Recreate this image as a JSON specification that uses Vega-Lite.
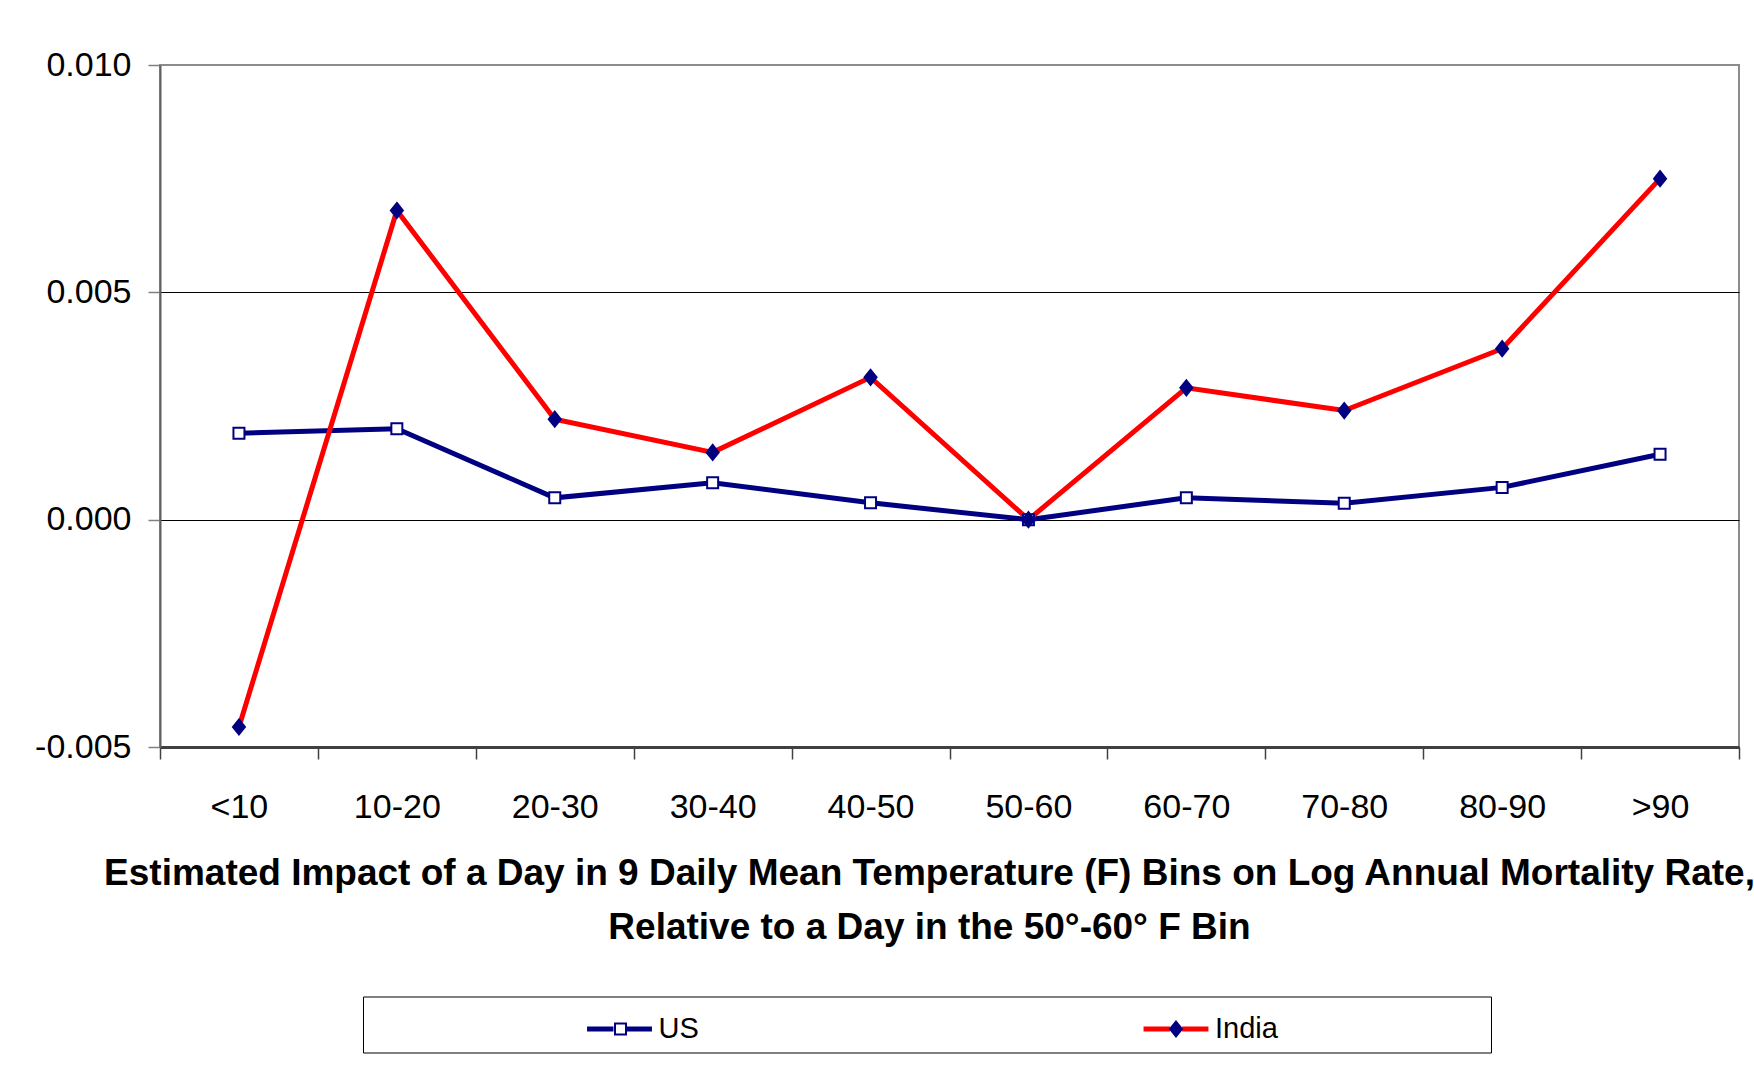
{
  "$schema": "https://vega.github.io/schema/vega-lite/v6.json",
  "width": 1579,
  "height": 682,
  "autosize": {"type": "none"},
  "padding": {"left": 160, "top": 65, "right": 15, "bottom": 320},
  "background": "white",
  "config": {
    "locale": {"number": {"decimal": ".", "thousands": ",", "grouping": [3], "currency": ["$", ""], "minus": "-"}},
    "view": {"stroke": "#8c8c8c", "strokeWidth": 2},
    "font": "Liberation Sans"
  },
  "data": {
    "values": [
      {"bin": "<10", "series": "US", "value": 0.0019},
      {"bin": "10-20", "series": "US", "value": 0.0020},
      {"bin": "20-30", "series": "US", "value": 0.00048},
      {"bin": "30-40", "series": "US", "value": 0.00081},
      {"bin": "40-50", "series": "US", "value": 0.00037},
      {"bin": "50-60", "series": "US", "value": 0.0},
      {"bin": "60-70", "series": "US", "value": 0.00048},
      {"bin": "70-80", "series": "US", "value": 0.00036},
      {"bin": "80-90", "series": "US", "value": 0.00071},
      {"bin": ">90", "series": "US", "value": 0.00144},
      {"bin": "<10", "series": "India", "value": -0.00456},
      {"bin": "10-20", "series": "India", "value": 0.0068},
      {"bin": "20-30", "series": "India", "value": 0.00221},
      {"bin": "30-40", "series": "India", "value": 0.00148},
      {"bin": "40-50", "series": "India", "value": 0.00313},
      {"bin": "50-60", "series": "India", "value": 0.0},
      {"bin": "60-70", "series": "India", "value": 0.0029},
      {"bin": "70-80", "series": "India", "value": 0.0024},
      {"bin": "80-90", "series": "India", "value": 0.00376},
      {"bin": ">90", "series": "India", "value": 0.0075}
    ]
  },
  "encoding": {
    "x": {
      "field": "bin",
      "type": "nominal",
      "scale": {"type": "band", "paddingInner": 0, "paddingOuter": 0,
        "domain": ["<10", "10-20", "20-30", "30-40", "40-50", "50-60", "60-70", "70-80", "80-90", ">90"]},
      "axis": {
        "title": ["Estimated Impact of a Day in 9 Daily Mean Temperature (F) Bins on Log Annual Mortality Rate,", "Relative to a Day in the 50°-60° F Bin"],
        "titleFontSize": 37,
        "titleFontWeight": "bold",
        "titleColor": "black",
        "titleLineHeight": 54,
        "titleX": 769,
        "titleY": 108,
        "titleAlign": "center",
        "titleBaseline": "top",
        "labelFontSize": 34,
        "labelColor": "black",
        "labelAngle": 0,
        "labelPadding": 31,
        "tickBand": "extent",
        "tickSize": 12,
        "tickColor": "#404040",
        "tickWidth": 1.5,
        "domainColor": "#404040",
        "domainWidth": 3,
        "grid": false
      }
    },
    "y": {
      "field": "value",
      "type": "quantitative",
      "scale": {"domain": [-0.005, 0.01], "nice": false, "zero": false},
      "axis": {
        "title": null,
        "values": [-0.005, 0, 0.005, 0.01],
        "format": ".3f",
        "labelFontSize": 34,
        "labelColor": "black",
        "labelPadding": 17,
        "tickSize": 12,
        "tickColor": "#808080",
        "tickWidth": 1.5,
        "domainColor": "#606060",
        "domainWidth": 2,
        "grid": true,
        "gridWidth": 1,
        "gridColor": {"condition": {"test": "datum.value > 0.009", "value": "#8c8c8c"}, "value": "#000000"}
      }
    }
  },
  "layer": [
    {
      "mark": {"type": "line", "strokeWidth": 5},
      "encoding": {
        "stroke": {
          "field": "series",
          "type": "nominal",
          "scale": {"domain": ["US", "India"], "range": ["#000080", "#ff0000"]},
          "legend": {
            "orient": "none",
            "legendX": 203,
            "legendY": 931.5,
            "direction": "horizontal",
            "columns": 2,
            "title": "\u2800\u2800\u2800\u2800\u2800\u2800\u2800\u2800\u2800\u2800\u2800\u2800\u2800\u2800",
            "titleOrient": "left",
            "titleFont": "DejaVu Sans",
            "titleFontSize": 20,
            "titlePadding": 5,
            "titleLimit": 2000,
            "symbolType": "M-1.18,0H-0.22M0.22,0H1.18M0,0.4",
            "symbolSize": 3025,
            "symbolStrokeWidth": 5,
            "labelFontSize": 29,
            "labelColor": "black",
            "labelOffset": 9,
            "labelLimit": 2000,
            "labelExpr": "datum.label == 'India' ? 'India' + '\u2800\u2800\u2800\u2800\u2800\u2800\u2800\u2800\u2800\u2800' : datum.label",
            "columnPadding": 433.5,
            "padding": 2.5,
            "strokeColor": "black"
          }
        }
      }
    },
    {
      "transform": [{"filter": "datum.series == 'US'"}],
      "mark": {"type": "point", "filled": true, "size": 400, "opacity": 1, "stroke": "#000080", "strokeWidth": 2, "shape": "M-0.55,-0.55H0.55V0.55H-0.55Z"},
      "encoding": {
        "fill": {
          "field": "series",
          "type": "nominal",
          "scale": {"domain": ["US"], "range": ["#ffffff"]},
          "legend": {
            "orient": "none",
            "legendX": 449.5,
            "legendY": 953,
            "title": null,
            "symbolType": "M-0.55,-0.55H0.55V0.55H-0.55Z",
            "symbolSize": 400,
            "symbolStrokeColor": "#000080",
            "symbolStrokeWidth": 2,
            "labelFontSize": 10,
            "labelOffset": 0,
            "labelExpr": "''",
            "padding": 0
          }
        }
      }
    },
    {
      "transform": [{"filter": "datum.series == 'India'"}],
      "mark": {"type": "point", "filled": true, "size": 400, "opacity": 1, "stroke": "#000080", "strokeWidth": 2, "shape": "M0,-0.75L0.6,0L0,0.75L-0.6,0Z"},
      "encoding": {
        "fill": {
          "field": "series",
          "type": "nominal",
          "scale": {"domain": ["India"], "range": ["#000080"]},
          "legend": {
            "orient": "none",
            "legendX": 1005,
            "legendY": 953,
            "title": null,
            "symbolType": "M0,-0.75L0.6,0L0,0.75L-0.6,0Z",
            "symbolSize": 400,
            "symbolStrokeColor": "#000080",
            "symbolStrokeWidth": 2,
            "labelFontSize": 10,
            "labelOffset": 0,
            "labelExpr": "''",
            "padding": 0
          }
        }
      }
    }
  ],
  "resolve": {"scale": {"fill": "independent"}, "legend": {"fill": "independent"}}
}
